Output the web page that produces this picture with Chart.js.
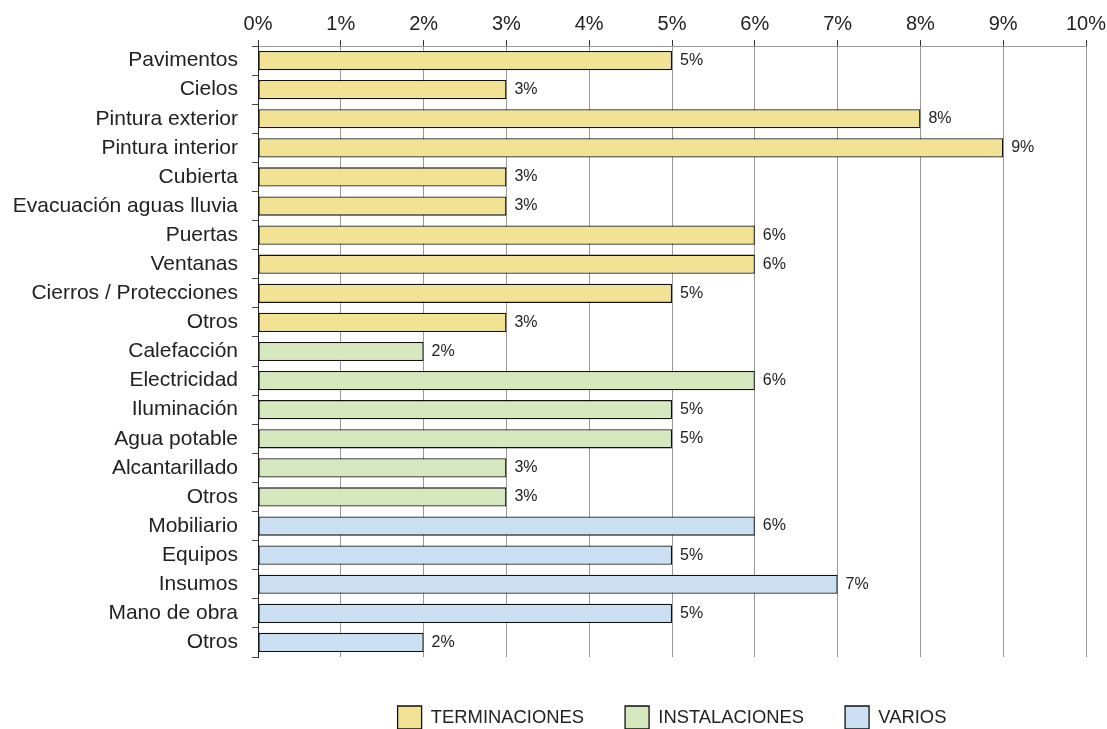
<!DOCTYPE html>
<html>
<head>
<meta charset="utf-8">
<script src="https://cdn.jsdelivr.net/npm/chart.js@4"></script>
<style>
  html, body { margin: 0; padding: 0; background: #fff; }
  #wrap { width: 1107px; height: 729px; }
</style>
</head>
<body>
<div id="wrap"><canvas id="costos"></canvas></div>
<script>
const terminaciones = ["Pavimentos", "Cielos", "Pintura exterior", "Pintura interior", "Cubierta",
  "Evacuación aguas lluvia", "Puertas", "Ventanas", "Cierros / Protecciones", "Otros"];
const terminacionesValues = [5, 3, 8, 9, 3, 3, 6, 6, 5, 3];

const instalaciones = ["Calefacción", "Electricidad", "Iluminación", "Agua potable", "Alcantarillado", "Otros"];
const instalacionesValues = [2, 6, 5, 5, 3, 3];

const varios = ["Mobiliario", "Equipos", "Insumos", "Mano de obra", "Otros"];
const variosValues = [6, 5, 7, 5, 2];

const groupNames = ["TERMINACIONES", "INSTALACIONES", "VARIOS"];
const xTicks = [0, 1, 2, 3, 4, 5, 6, 7, 8, 9, 10];

const labels = terminaciones.concat(instalaciones, varios);
const n1 = terminaciones.length, n2 = instalaciones.length, n3 = varios.length;
const blank = (k) => new Array(k).fill(null);

const font = "'Liberation Sans', Arial, sans-serif";

// value labels at the end of each bar
const valueLabels = {
  id: "valueLabels",
  afterDatasetsDraw(chart) {
    const ctx = chart.ctx;
    ctx.save();
    ctx.font = "16px " + font;
    ctx.fillStyle = "#222";
    ctx.textBaseline = "middle";
    chart.data.datasets.forEach((ds, i) => {
      chart.getDatasetMeta(i).data.forEach((bar, j) => {
        if (ds.data[j] == null) return;
        ctx.fillText(ds.data[j] + "%", bar.x + 8, bar.y);
      });
    });
    ctx.restore();
  }
};

new Chart(document.getElementById("costos"), {
  type: "bar",
  plugins: [valueLabels],
  data: {
    labels: labels,
    datasets: [
      {
        label: groupNames[0],
        data: terminacionesValues.concat(blank(n2 + n3)),
        backgroundColor: "#f2e394",
      },
      {
        label: groupNames[1],
        data: blank(n1).concat(instalacionesValues, blank(n3)),
        backgroundColor: "#d6e8bd",
      },
      {
        label: groupNames[2],
        data: blank(n1 + n2).concat(variosValues),
        backgroundColor: "#cce0f3",
      },
    ].map((d) => Object.assign(d, {
      borderColor: "#111",
      borderWidth: 1.3,
      borderSkipped: false,
      grouped: false,
      categoryPercentage: 1,
      barPercentage: 0.66,
    })),
  },
  options: {
    indexAxis: "y",
    responsive: true,
    maintainAspectRatio: false,
    animation: false,
    layout: { padding: { top: 8, right: 21, left: 0, bottom: -10 } },
    scales: {
      x: {
        position: "top",
        min: 0,
        max: 10,
        afterBuildTicks: (scale) => { scale.ticks = xTicks.map((v) => ({ value: v })); },
        afterFit: (scale) => { scale.paddingRight = 0; scale.paddingLeft = 0; },
        ticks: {
          callback: (v) => v + "%",
          color: "#222",
          font: { family: font, size: 20 },
          padding: 4,
          maxRotation: 0,
        },
        grid: { color: "#999", tickColor: "#333", tickLength: 6 },
        border: { color: "#999" },
      },
      y: {
        afterFit: (scale) => { scale.width = 258; },
        ticks: {
          color: "#222",
          font: { family: font, size: 21 },
          padding: 14,
        },
        grid: {
          offset: true,
          tickLength: 6,
          tickColor: "#444",
          color: (c) => (c.index === labels.length ? "#999" : "rgba(0,0,0,0)"),
        },
        border: { color: "#222" },
      },
    },
    plugins: {
      tooltip: { enabled: false },
      legend: {
        position: "bottom",
        fullSize: false,
        title: { display: true, text: " ", padding: 0, font: { size: 8, lineHeight: 1 } },
        labels: {
          color: "#222",
          font: { family: font, size: 18.4 },
          boxWidth: 24,
          boxHeight: 23,
          padding: 41,
        },
      },
    },
  },
});
</script>
</body>
</html>
